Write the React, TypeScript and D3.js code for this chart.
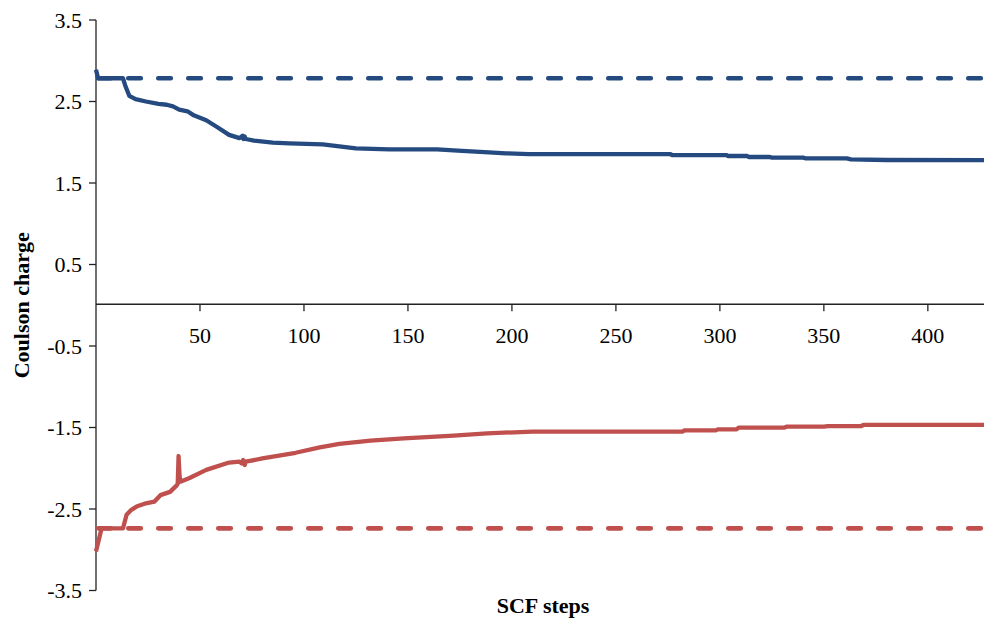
import React from "react";
import * as d3 from "d3";

const blueSteps = [0, 1, 13, 14, 16, 19, 24, 30, 34, 37, 40, 44, 47, 53, 58, 64, 69, 70.5, 71, 71.5, 72, 76, 85, 93, 109, 125, 141, 164, 176, 189, 197, 208, 276, 277, 303, 304, 313, 314, 324, 325, 340, 341, 361, 363, 380, 427];
const blueValues = [2.89, 2.785, 2.785, 2.7, 2.57, 2.53, 2.5, 2.47, 2.46, 2.44, 2.4, 2.38, 2.33, 2.27, 2.19, 2.09, 2.05, 2.08, 2.04, 2.07, 2.04, 2.02, 1.995, 1.987, 1.975, 1.926, 1.913, 1.913, 1.893, 1.876, 1.864, 1.855, 1.855, 1.843, 1.843, 1.831, 1.831, 1.819, 1.819, 1.811, 1.811, 1.803, 1.803, 1.79, 1.782, 1.78];

const redSteps = [0, 2.7, 13, 14.7, 17, 19.5, 24, 28, 31, 35.6, 38.8, 39.3, 39.7, 40.2, 40.6, 45, 53, 64, 69, 70, 70.8, 71.5, 72, 80, 96, 107.6, 117, 132, 148, 172, 188, 210, 282, 283, 298, 299, 308, 309, 331, 332, 350, 352, 368, 369, 427];
const redValues = [-3.02, -2.737, -2.737, -2.57, -2.51, -2.47, -2.43, -2.41, -2.33, -2.29, -2.21, -2.19, -1.85, -2.1, -2.165, -2.12, -2.02, -1.93, -1.92, -1.94, -1.9, -1.96, -1.92, -1.88, -1.81, -1.743, -1.7, -1.66, -1.633, -1.6, -1.572, -1.55, -1.55, -1.535, -1.535, -1.523, -1.523, -1.502, -1.502, -1.49, -1.49, -1.482, -1.482, -1.469, -1.469];

const blueReference = 2.785;
const redReference = -2.737;

const xTicks = [50, 100, 150, 200, 250, 300, 350, 400];
const yTicks = [3.5, 2.5, 1.5, 0.5, -0.5, -1.5, -2.5, -3.5];

const BLUE = "#254A80";
const RED = "#C0504D";

function Label(props: { x: number; y: number; anchor: string; bold?: boolean; dy?: string; transform?: string; children: React.ReactNode }) {
  return (
    <text
      x={props.x}
      y={props.y}
      dy={props.dy}
      transform={props.transform}
      textAnchor={props.anchor}
      style={{ fontFamily: "Liberation Serif", fontSize: "22px", fontWeight: props.bold ? 700 : 400 }}
      fill="#000"
    >
      {props.children}
    </text>
  );
}

export default function App() {
  const W = 984;
  const H = 619;
  const x = d3.scaleLinear().domain([0, 427]).range([96, 984]);
  const y = d3.scaleLinear().domain([-3.5, 3.5]).range([590.5, 20]);
  const line = d3
    .line<[number, number]>()
    .x((d) => x(d[0]))
    .y((d) => y(d[1]));
  const blue = blueSteps.map((s, i) => [s, blueValues[i]] as [number, number]);
  const red = redSteps.map((s, i) => [s, redValues[i]] as [number, number]);
  const y0 = y(0) - 1;
  return (
    <svg width={W} height={H} style={{ position: "absolute", left: 0, top: 0 }}>
      <rect x={0} y={0} width={W} height={H} fill="#fff" />
      <line x1={96} x2={96} y1={y(3.5)} y2={y(-3.5)} stroke="#222" strokeWidth={1.3} />
      {yTicks.map((t) => (
        <g key={t}>
          <line x1={89} x2={96} y1={y(t)} y2={y(t)} stroke="#222" strokeWidth={1.3} />
          <Label x={82} y={y(t)} dy="0.35em" anchor="end">
            {t.toFixed(1)}
          </Label>
        </g>
      ))}
      <line x1={96} x2={984} y1={y0} y2={y0} stroke="#222" strokeWidth={1.3} />
      {xTicks.map((t) => (
        <g key={t}>
          <line x1={x(t)} x2={x(t)} y1={y0} y2={y0 + 7} stroke="#222" strokeWidth={1.3} />
          <Label x={x(t)} y={y0 + 39} anchor="middle">
            {t}
          </Label>
        </g>
      ))}
      <line
        x1={x(0)}
        x2={984}
        y1={y(blueReference)}
        y2={y(blueReference)}
        stroke={BLUE}
        strokeWidth={4.7}
        strokeDasharray="12.5 17.5"
        strokeDashoffset={-2.3}
        strokeLinecap="round"
      />
      <line
        x1={x(0)}
        x2={984}
        y1={y(redReference)}
        y2={y(redReference)}
        stroke={RED}
        strokeWidth={4.7}
        strokeDasharray="12.5 17.5"
        strokeDashoffset={-2.3}
        strokeLinecap="round"
      />
      <path d={line(blue) || ""} fill="none" stroke={BLUE} strokeWidth={4.3} strokeLinejoin="round" />
      <path d={line(red) || ""} fill="none" stroke={RED} strokeWidth={4.3} strokeLinejoin="round" />
      <Label x={0} y={0} anchor="middle" bold transform={`translate(29, ${y(0)}) rotate(-90)`}>
        Coulson charge
      </Label>
      <Label x={543} y={613} anchor="middle" bold>
        SCF steps
      </Label>
    </svg>
  );
}
